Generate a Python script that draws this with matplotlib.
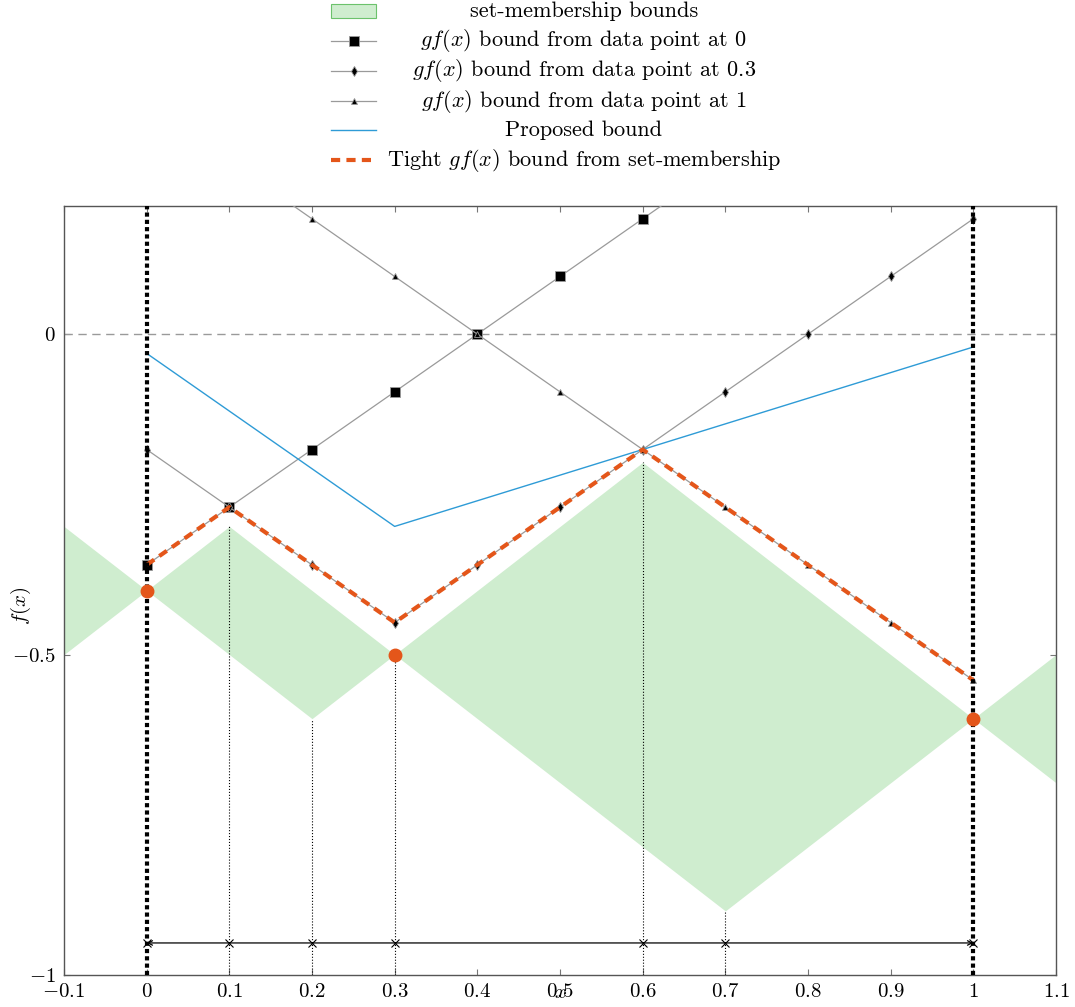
import matplotlib
matplotlib.use("Agg")
import matplotlib.pyplot as plt
from matplotlib.patches import Rectangle

plt.rcParams['font.family'] = ['cmr10', 'DejaVu Serif']
plt.rcParams['mathtext.fontset'] = 'cm'
plt.rcParams['axes.unicode_minus'] = True

# measured data points
data_x = [0, 0.3, 1]
data_f = [-0.4, -0.5, -0.6]

# set-membership bounds (vertices)
sm_x = [-0.1, 0, 0.1, 0.2, 0.3, 0.6, 0.7, 1, 1.1]
sm_upper = [-0.3, -0.4, -0.3, -0.4, -0.5, -0.2, -0.3, -0.6, -0.5]
sm_lower = [-0.5, -0.4, -0.5, -0.6, -0.5, -0.8, -0.9, -0.6, -0.7]

# gf(x) bounds sampled on a grid
grid_x = [0, 0.1, 0.2, 0.3, 0.4, 0.5, 0.6, 0.7, 0.8, 0.9, 1]
gf_0 = [-0.36, -0.27, -0.18, -0.09, 0, 0.09, 0.18, 0.27, 0.36, 0.45, 0.54]
gf_03 = [-0.18, -0.27, -0.36, -0.45, -0.36, -0.27, -0.18, -0.09, 0, 0.09, 0.18]
gf_1 = [0.36, 0.27, 0.18, 0.09, 0, -0.09, -0.18, -0.27, -0.36, -0.45, -0.54]
tight = [-0.36, -0.27, -0.36, -0.45, -0.36, -0.27, -0.18, -0.27, -0.36, -0.45, -0.54]

# proposed bound
prop_x = [0, 0.3, 1]
prop_y = [-0.03, -0.30, -0.02]

# vertex guide lines and interval markers
vert_x = [0.1, 0.2, 0.3, 0.6, 0.7]
vert_y = [-0.3, -0.6, -0.5, -0.2, -0.9]
interval_x = [0, 0.1, 0.2, 0.3, 0.6, 0.7, 1]
interval_y = -0.95

xticks = [-0.1, 0, 0.1, 0.2, 0.3, 0.4, 0.5, 0.6, 0.7, 0.8, 0.9, 1, 1.1]
xticklabels = ['$-0.1$', '$0$', '$0.1$', '$0.2$', '$0.3$', '$0.4$', '$0.5$',
               '$0.6$', '$0.7$', '$0.8$', '$0.9$', '$1$', '$1.1$']
yticks = [-1, -0.5, 0]
yticklabels = ['$-1$', '$-0.5$', '$0$']

labels = ['set-membership bounds',
          '$gf(x)$ bound from data point at 0',
          '$gf(x)$ bound from data point at 0.3',
          '$gf(x)$ bound from data point at 1',
          'Proposed bound',
          'Tight $gf(x)$ bound from set-membership']

green = '#cfedcf'
green_edge = '#6cc26c'
orange = '#e4561a'
blue = '#2e9bd6'
gray = '#9a9a9a'

fig = plt.figure(figsize=(10.75, 10.07), dpi=100)
ax = fig.add_axes([64 / 1075, 32 / 1007, 992 / 1075, 769 / 1007])

ax.fill_between(sm_x, sm_lower, sm_upper, color=green, lw=0, zorder=1)
ax.axhline(0, color=gray, lw=1, dashes=(6, 4), zorder=2)
ax.vlines(vert_x, -1, vert_y, colors='black', linestyles=':', lw=0.8, zorder=2)
ax.axvline(0, color='black', lw=3, linestyle=(0, (1, 0.75)), zorder=6)
ax.axvline(1, color='black', lw=3, linestyle=(0, (1, 0.75)), zorder=6)

ax.plot(grid_x, gf_0, color=gray, lw=0.9, marker='s', ms=6.5, mfc='black',
        mec=gray, mew=0.6, zorder=3)
ax.plot(grid_x, gf_03, color=gray, lw=0.9, marker='d', ms=5, mfc='black',
        mec=gray, mew=0.6, zorder=3)
ax.plot(grid_x, gf_1, color=gray, lw=0.9, marker='^', ms=5, mfc='black',
        mec=gray, mew=0.6, zorder=3)
ax.plot(prop_x, prop_y, color=blue, lw=1, zorder=3)
ax.plot(grid_x, tight, color=orange, lw=3, dashes=(2.2, 1.5), zorder=4)
ax.plot(data_x, data_f, 'o', color=orange, ms=9, zorder=7)

ax.plot(interval_x, [interval_y] * len(interval_x), 'x', color='black',
        ms=6, mew=0.8, zorder=5)
ax.annotate('', xy=(interval_x[-1], interval_y), xytext=(interval_x[0], interval_y),
            arrowprops=dict(arrowstyle='<->', lw=0.9, color='black',
                            shrinkA=0, shrinkB=0, mutation_scale=8), zorder=5)

ax.set_xlim(-0.1, 1.1)
ax.set_ylim(-1, 0.2)
ax.set_xticks(xticks)
ax.set_xticklabels(xticklabels, fontsize=15)
ax.set_yticks(yticks)
ax.set_yticklabels(yticklabels, fontsize=15)
ax.tick_params(direction='in', top=True, right=True, length=4, color='#777777', pad=6)
for s in ax.spines.values():
    s.set_color('#555555')
    s.set_linewidth(1)
ax.set_xlabel('$x$', fontsize=15)
ax.xaxis.set_label_coords(0.5, -0.012)
ax.set_ylabel('$f(x)$', fontsize=15)
ax.yaxis.set_label_coords(-0.031, 0.48)

# legend drawn by hand so the text is centred like pgfplots
lax = fig.add_axes([0, 1 - 180 / 1007, 1, 180 / 1007])
lax.set_xlim(0, 1075)
lax.set_ylim(180, 0)
lax.axis('off')
row_y = [11, 41, 71, 101, 130, 160]
h0, h1, tx = 331, 376, 584
lax.add_patch(Rectangle((h0, row_y[0] - 7), h1 - h0, 14, facecolor=green,
                        edgecolor=green_edge, lw=0.8))
for yy, mk, ms in zip(row_y[1:4], ['s', 'd', '^'], [6.5, 5, 5]):
    lax.plot([h0, h1], [yy, yy], color=gray, lw=0.9)
    lax.plot([(h0 + h1) / 2], [yy], marker=mk, ms=ms, mfc='black', mec=gray, mew=0.6)
lax.plot([h0, h1], [row_y[4], row_y[4]], color=blue, lw=1)
lax.plot([h0, h1], [row_y[5], row_y[5]], color=orange, lw=3, dashes=(2.2, 1.5))
for yy, lab in zip(row_y, labels):
    lax.text(tx, yy, lab, ha='center', va='center', fontsize=16)

fig.savefig('out.png', dpi=100)
